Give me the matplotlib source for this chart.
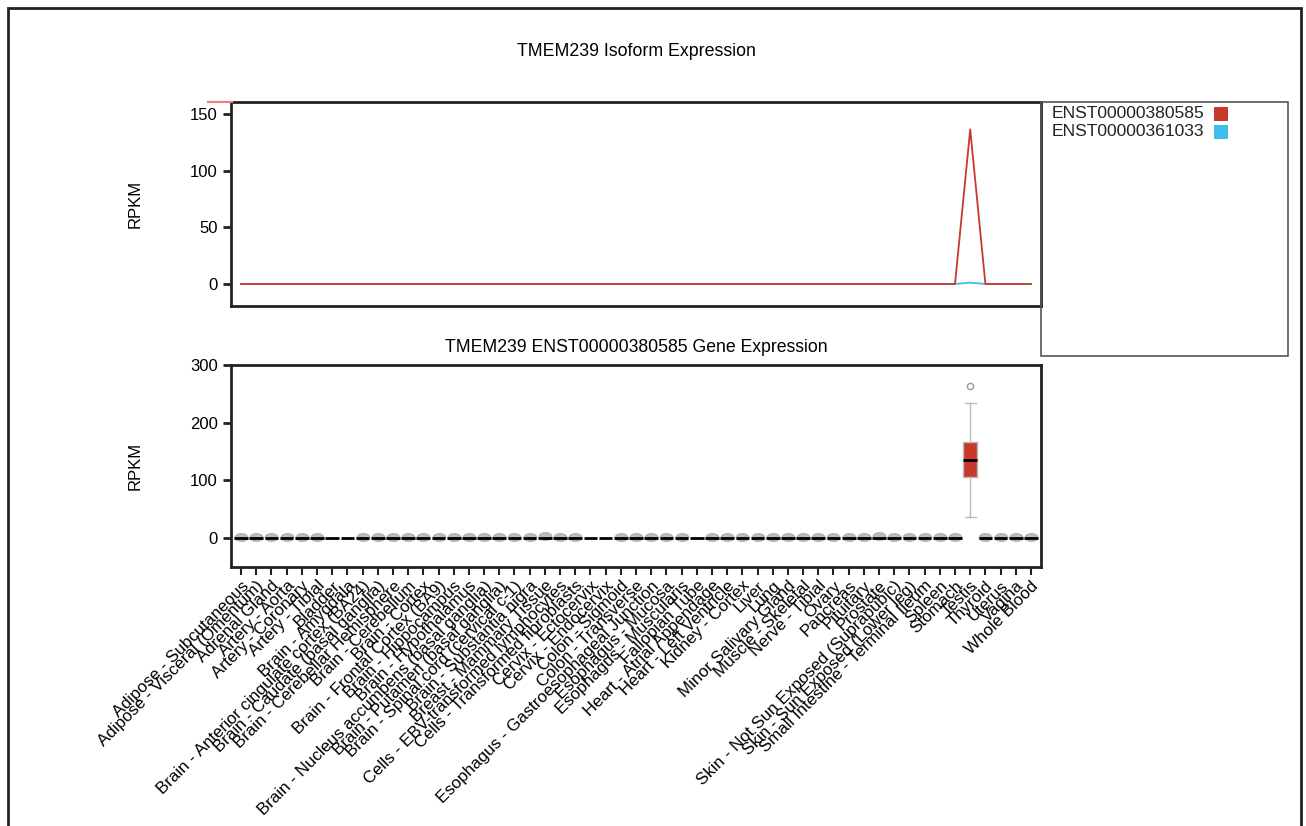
import matplotlib
matplotlib.use("Agg")
import matplotlib.pyplot as plt
from matplotlib.patches import Rectangle
from matplotlib.path import Path
from matplotlib.transforms import Affine2D
import numpy as np

plt.rcParams['font.family'] = ['Liberation Sans', 'DejaVu Sans']

tissues = [
    "Adipose - Subcutaneous", "Adipose - Visceral (Omentum)", "Adrenal Gland",
    "Artery - Aorta", "Artery - Coronary", "Artery - Tibial", "Bladder",
    "Brain - Amygdala", "Brain - Anterior cingulate cortex (BA24)",
    "Brain - Caudate (basal ganglia)", "Brain - Cerebellar Hemisphere",
    "Brain - Cerebellum", "Brain - Cortex", "Brain - Frontal Cortex (BA9)",
    "Brain - Hippocampus", "Brain - Hypothalamus",
    "Brain - Nucleus accumbens (basal ganglia)", "Brain - Putamen (basal ganglia)",
    "Brain - Spinal cord (cervical c-1)", "Brain - Substantia nigra",
    "Breast - Mammary Tissue", "Cells - EBV-transformed lymphocytes",
    "Cells - Transformed fibroblasts", "Cervix - Ectocervix", "Cervix - Endocervix",
    "Colon - Sigmoid", "Colon - Transverse",
    "Esophagus - Gastroesophageal Junction", "Esophagus - Mucosa",
    "Esophagus - Muscularis", "Fallopian Tube", "Heart - Atrial Appendage",
    "Heart - Left Ventricle", "Kidney - Cortex", "Liver", "Lung",
    "Minor Salivary Gland", "Muscle - Skeletal", "Nerve - Tibial", "Ovary",
    "Pancreas", "Pituitary", "Prostate",
    "Skin - Not Sun Exposed (Suprapubic)", "Skin - Sun Exposed (Lower leg)",
    "Small Intestine - Terminal Ileum", "Spleen", "Stomach", "Testis",
    "Thyroid", "Uterus", "Vagina", "Whole Blood",
]

# Isoform expression (median RPKM per tissue)
iso_380585 = [0.0] * 48 + [136.5] + [0.0] * 4
iso_361033 = [0.0] * 47 + [0.0, 1.2, 0.0] + [0.0] * 3

# Gene expression box stats for ENST00000380585
box_med = [0.0] * 53
box_q1 = [0.0] * 53
box_q3 = [0.0] * 53
box_wlo = [0.0] * 53
box_whi = [0.0] * 53
box_med[48], box_q1[48], box_q3[48], box_wlo[48], box_whi[48] = 136.0, 106.0, 166.0, 36.0, 234.0
# outlier points per tissue (low-level outliers near zero appear as grey blobs)
no_outlier = {6, 7, 23, 24, 30, 48}
outliers = [[] if i in no_outlier else [1.5] for i in range(53)]
outliers[0] = [2.5]
outliers[20] = [4.5]
outliers[41] = [2.5]
outliers[42] = [3.0]
outliers[48] = [264.0]

RED = "#c8392b"
BLUE = "#3cc0ea"

W, H = 1306, 826
fig = plt.figure(figsize=(W / 100, H / 100), dpi=100)

def ax_rect(l, t, r, b):
    return [l / W, 1 - b / H, (r - l) / W, (b - t) / H]

x = np.arange(len(tissues))

# ---------- top axes ----------
ax1 = fig.add_axes(ax_rect(231, 102, 1041, 306))
ax1.plot(x, iso_361033, color=BLUE, lw=1.3, label="ENST00000361033")
ax1.plot(x, iso_380585, color=RED, lw=1.3, label="ENST00000380585")
ax1.set_xlim(-0.66, 52.66)
ax1.set_ylim(-19.4, 160.6)
ax1.set_yticks([0, 50, 100, 150])
ax1.set_xticks([])
ax1.set_ylabel("RPKM", fontsize=12, labelpad=34)
ax1.set_title("TMEM239 Isoform Expression", fontsize=12.8, pad=33)
for s in ax1.spines.values():
    s.set_linewidth(2)
    s.set_color("#222222")
ax1.tick_params(axis='y', length=6, width=2, labelsize=12, color="#222222")

# small red artefact at top-left
fig.add_artist(plt.Line2D([208 / W, 232 / W], [1 - 102 / H, 1 - 102 / H],
                          color="#f08080", lw=1.5))

# legend box
fig.add_artist(Rectangle((1041 / W, 1 - 356 / H), (1288 - 1041) / W, (356 - 102) / H,
                         transform=fig.transFigure, fill=False, ec="#555555", lw=1.2))
for i, (lab, col) in enumerate([("ENST00000380585", RED), ("ENST00000361033", BLUE)]):
    yc = 114 + 18 * i
    fig.text(1052 / W, 1 - yc / H, lab, fontsize=12.6, va="center", ha="left", color="#222222")
    fig.add_artist(Rectangle((1214 / W, 1 - (yc + 7) / H), 14 / W, 14 / H,
                             transform=fig.transFigure, color=col, lw=0))

# ---------- bottom axes ----------
ax2 = fig.add_axes(ax_rect(231, 365, 1041, 567))
stats = []
for i in range(len(tissues)):
    stats.append(dict(med=box_med[i], q1=box_q1[i], q3=box_q3[i],
                      whislo=box_wlo[i], whishi=box_whi[i], fliers=outliers[i]))
bp = ax2.bxp(stats, positions=x, widths=0.9, patch_artist=True, showcaps=True,
             boxprops=dict(facecolor=RED, edgecolor="#bbbbbb", lw=1),
             medianprops=dict(color="black", lw=2),
             whiskerprops=dict(color="#bbbbbb", lw=1),
             capprops=dict(color="#bbbbbb", lw=1),
             flierprops=dict(marker="o", markersize=4.5, markerfacecolor="none",
                             markeredgecolor="#999999", markeredgewidth=1))
# low-level outlier markers near zero drawn as flattened grey blobs
ellipse = Path.unit_circle().transformed(Affine2D().scale(1.0, 0.62))
for i, fl in enumerate(bp['fliers']):
    if i != 48:
        fl.set_marker(ellipse)
        fl.set_markerfacecolor("#b0b0b0")
        fl.set_markeredgecolor("#b0b0b0")
        fl.set_markersize(9)
        fl.set_alpha(0.85)
for i, c in enumerate(bp['caps']):
    if i // 2 == 48:
        c.set_xdata([48 - 0.35, 48 + 0.35])
ax2.set_xlim(-0.66, 52.66)
ax2.set_ylim(-50, 300)
ax2.set_yticks([0, 100, 200, 300])
ax2.set_xticks(x)
ax2.set_xticklabels(tissues, rotation=45, ha="right", rotation_mode="anchor",
                    fontsize=12.2)
ax2.set_ylabel("RPKM", fontsize=12, labelpad=34)
ax2.set_title("TMEM239 ENST00000380585 Gene Expression", fontsize=12.7, pad=9)
for s in ax2.spines.values():
    s.set_linewidth(2)
    s.set_color("#222222")
ax2.tick_params(axis='y', length=6, width=2, labelsize=12, color="#222222")
ax2.tick_params(axis='x', length=6, width=1.5, color="#222222", pad=2)

# outer frame
fig.add_artist(Rectangle((8 / W, -0.05), (1301 - 8) / W, 1.05 - 8 / H,
                         transform=fig.transFigure, fill=False, ec="#222222", lw=2))

fig.savefig("out.png", dpi=100)
